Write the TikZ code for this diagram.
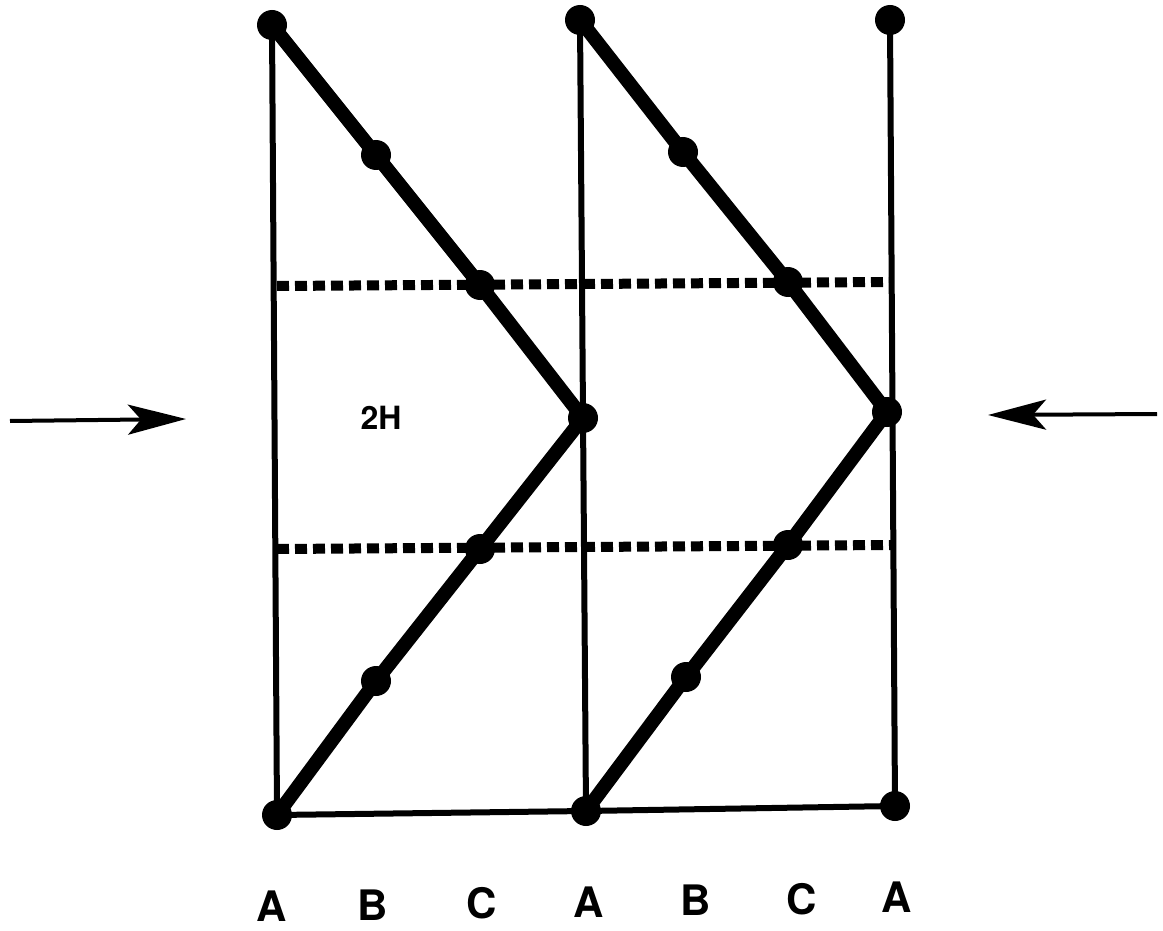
\documentclass[tikz,border=0pt]{standalone}
\usepackage{fontspec}
\setmainfont{TeX Gyre Heros}
\usetikzlibrary{arrows.meta}
\begin{document}
\begin{tikzpicture}[x=1pt,y=-1pt,
  dot/.style={circle,fill=black,inner sep=0pt,minimum size=30pt},
  thin/.style={line width=6pt},
  thick/.style={line width=14pt,line join=round,line cap=round},
  dotline/.style={line width=10pt,dash pattern=on 12pt off 6pt},
  lbl/.style={font=\fontsize{42}{42}\selectfont\bfseries,inner sep=0pt,text depth=0pt,anchor=base},
  arr/.style={line width=4pt,-{Stealth[length=58pt,width=30pt,inset=13pt]}}]
\useasboundingbox (0,0) rectangle (1163,931);
% dots
\node[dot] (t1) at (272,25) {};
\node[dot] (t2) at (580,20) {};
\node[dot] (t3) at (890,20) {};
\node[dot] (b1) at (277,815) {};
\node[dot] (b2) at (586,811) {};
\node[dot] (b3) at (895,806) {};
\node[dot] (a1) at (376,155) {};
\node[dot] (a2) at (480,285) {};
\node[dot] (a3) at (583,418) {};
\node[dot] (a4) at (480,549) {};
\node[dot] (a5) at (376,681) {};
\node[dot] (c1) at (683,152) {};
\node[dot] (c2) at (788,282) {};
\node[dot] (c3) at (887,412) {};
\node[dot] (c4) at (788,545) {};
\node[dot] (c5) at (686,677) {};
% dotted lines
\coordinate (d1l) at (277,286);
\coordinate (d1r) at (891,282);
\coordinate (d2l) at (277,549);
\coordinate (d2r) at (892,545);
\draw[dotline] (d1l) -- (d1r);
\draw[dotline] (d2l) -- (d2r);
% verticals and bottom
\draw[thin] (t1.center) -- (b1.center);
\draw[thin] (t2.center) -- (b2.center);
\draw[thin] (t3.center) -- (b3.center);
\draw[thin] (b1.center) -- (b2.center) -- (b3.center);
% zigzags
\draw[thick] (t1.center) -- (a1.center) -- (a2.center) -- (a3.center) -- (a4.center) -- (a5.center) -- (b1.center);
\draw[thick] (t2.center) -- (c1.center) -- (c2.center) -- (c3.center) -- (c4.center) -- (c5.center) -- (b2.center);
% arrows
\coordinate (l0) at (10,421);
\coordinate (l1) at (186,419);
\coordinate (r0) at (1157,414);
\coordinate (r1) at (988,415);
\draw[arr] (l0) -- (l1);
\draw[arr] (r0) -- (r1);
% labels
\node[font=\fontsize{32}{32}\selectfont\bfseries] (h) at (381,418) {2H};
\node[lbl] (L1) at (272,921) {A};
\node[lbl] (L2) at (373,920) {B};
\node[lbl] (L3) at (482,918) {C};
\node[lbl] (L4) at (589,917) {A};
\node[lbl] (L5) at (696,915) {B};
\node[lbl] (L6) at (802,914) {C};
\node[lbl] (L7) at (897,912) {A};
\end{tikzpicture}
\end{document}
